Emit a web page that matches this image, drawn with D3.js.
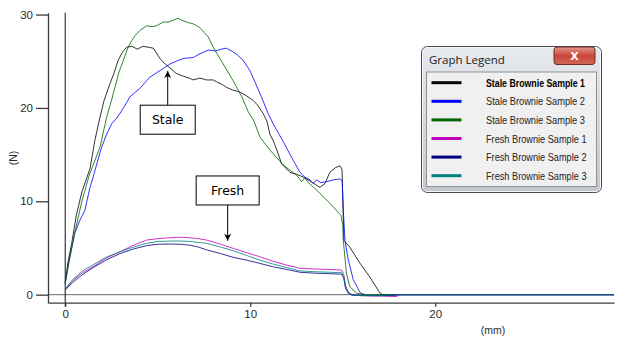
<!DOCTYPE html>
<html>
<head>
<meta charset="utf-8">
<script src="https://cdn.jsdelivr.net/npm/d3@7"></script>
<style>
  html, body { margin: 0; padding: 0; background: #fff; }
  svg { display: block; }
</style>
</head>
<body>
<svg id="chart" width="630" height="338"></svg>
<script>
// Texture analyser runs: force (N) versus distance (mm)
const seriesNames = [
  "Stale Brownie Sample 1", "Stale Brownie Sample 2", "Stale Brownie Sample 3",
  "Fresh Brownie Sample 1", "Fresh Brownie Sample 2", "Fresh Brownie Sample 3"
];
const seriesColors = ["#000000", "#0000ff", "#006400", "#c000c0", "#000080", "#008080"];

const stale1 = [[0,1.2],[0.15,3.5],[0.35,5.5],[0.6,8.5],[0.9,11],[1.34,13.5],[1.6,16.5],[1.88,19.0],[2.1,20.8],[2.42,22.6],[2.65,23.8],[2.86,25.1],[3.1,26.0],[3.32,26.5],[3.6,26.6],[3.9,26.3],[4.2,26.6],[4.5,26.5],[4.76,26.4],[5.12,25.3],[5.4,24.7],[5.66,24.3],[6.0,23.7],[6.38,23.4],[6.7,23.2],[6.92,23.0],[7.28,23.2],[7.64,23.0],[8.0,23.0],[8.18,22.8],[8.5,22.5],[8.72,22.2],[9.08,21.9],[9.44,21.7],[9.8,21.3],[10.16,20.8],[10.4,20.3],[10.7,19.4],[10.9,18.6],[11.06,17.2],[11.24,16.5],[11.42,15.6],[11.7,14.0],[12.15,13.1],[12.5,12.9],[12.86,12.6],[13.3,12.1],[13.6,11.7],[13.77,11.5],[14.04,11.9],[14.3,13.1],[14.6,13.6],[14.85,13.8],[14.96,13.4],[15.02,9.0],[15.06,5.8],[15.38,5.1],[15.92,3.4],[16.46,1.9],[17.0,0.2],[17.2,-0.05],[17.6,-0.1],[18.0,0],[29.66,0]];

const stale2 = [[0,1.3],[0.2,3.5],[0.52,6.6],[0.8,8.0],[1.06,9.0],[1.34,11.5],[1.51,12.6],[1.75,14.3],[1.97,15.8],[2.2,17.0],[2.51,18.3],[2.78,18.9],[3.05,19.7],[3.3,20.5],[3.5,21.2],[4.04,22.1],[4.58,23.3],[5.12,24.0],[5.66,24.7],[6.0,25.0],[6.38,25.3],[6.92,25.4],[7.28,25.8],[7.73,26.2],[8.1,26.1],[8.45,26.3],[8.7,26.4],[9.0,26.1],[9.3,25.7],[9.62,25.1],[9.98,24.0],[10.25,22.8],[10.6,21.2],[10.97,19.4],[11.24,18.3],[11.78,16.4],[12.32,14.4],[12.69,13.1],[12.95,12.6],[13.23,12.3],[13.4,11.9],[13.59,12.3],[13.8,12.0],[14.13,12.1],[14.5,12.3],[14.85,12.4],[14.97,12.2],[15.03,9.1],[15.12,5.8],[15.3,3.7],[15.57,1.6],[15.95,0.2],[16.3,-0.1],[17.5,-0.1],[18.0,0],[29.66,0]];

const stale3 = [[0,1.2],[0.2,3.5],[0.5,6.5],[0.9,10],[1.3,12.8],[1.88,15.8],[2.24,19.0],[2.5,20.8],[2.69,22.2],[2.9,23.8],[3.14,25.1],[3.4,26.5],[3.59,27.2],[3.8,27.8],[4.04,28.3],[4.4,28.8],[4.7,28.7],[4.94,28.8],[5.3,29.2],[5.6,29.2],[5.84,29.4],[6.1,29.6],[6.3,29.4],[6.56,29.2],[6.92,29.0],[7.28,28.6],[7.5,28.1],[7.73,27.6],[8.0,26.5],[8.54,24.7],[9.08,22.9],[9.54,21.2],[9.89,19.6],[10.2,18.6],[10.52,16.9],[11.06,15.5],[11.78,13.9],[12.5,12.8],[12.78,12.1],[12.95,12.5],[13.2,11.9],[13.59,11.2],[14.3,9.8],[14.9,8.5],[15.0,7.5],[15.03,5.8],[15.2,2.3],[15.38,0.85],[15.75,0.15],[16.2,0],[29.66,0]];

const fresh1 = [[0,0.6],[0.4,1.5],[0.9,2.3],[1.51,3.0],[2.2,3.9],[2.96,4.6],[3.7,5.3],[4.4,5.85],[5.0,6.0],[5.66,6.1],[6.2,6.15],[6.74,6.1],[7.2,6.0],[7.64,5.85],[8.4,5.4],[9.08,4.96],[9.8,4.5],[10.52,4.06],[11.2,3.6],[11.97,3.17],[12.69,2.82],[13.5,2.75],[14.3,2.7],[14.94,2.64],[15.05,2.2],[15.15,1.0],[15.3,0.3],[15.5,0.0],[16.0,-0.1],[17.0,-0.15],[17.9,-0.2],[18.1,0],[29.66,0]];

const fresh2 = [[0,0.5],[0.4,1.3],[0.9,2.1],[1.51,2.9],[2.2,3.7],[2.96,4.4],[3.7,4.9],[4.4,5.25],[5.0,5.4],[5.66,5.42],[6.2,5.4],[6.74,5.3],[7.2,5.1],[7.64,4.8],[8.4,4.4],[9.08,4.0],[9.8,3.7],[10.52,3.35],[11.2,3.0],[11.97,2.7],[12.69,2.4],[13.5,2.3],[14.3,2.25],[14.94,2.2],[15.05,1.8],[15.15,0.7],[15.3,0.15],[15.5,-0.05],[16.0,-0.1],[17.0,-0.1],[18.0,0],[29.66,0]];

const fresh3 = [[0,0.6],[0.4,1.6],[0.9,2.5],[1.51,3.2],[2.2,4.0],[2.96,4.6],[3.7,5.1],[4.4,5.5],[5.0,5.7],[5.66,5.74],[6.2,5.75],[6.74,5.7],[7.2,5.6],[7.64,5.5],[8.4,5.1],[9.08,4.7],[9.8,4.2],[10.52,3.7],[11.2,3.3],[11.97,2.9],[12.69,2.55],[13.5,2.45],[14.3,2.4],[14.94,2.35],[15.05,1.9],[15.15,0.8],[15.3,0.2],[15.5,-0.05],[16.0,-0.1],[17.0,-0.1],[18.0,0],[29.66,0]];

const seriesData = [stale1, stale2, stale3, fresh1, fresh2, fresh3];

const xTicks = [0, 10, 20];
const yTicks = [0, 10, 20, 30];

// Callout labels: text, box centre (data units), arrow tip y (data units)
const calloutText = ["Stale", "Fresh"];
const calloutAt = [[5.54, 18.74, 23.95], [8.78, 11.16, 5.78]];

const svg = d3.select("#chart");
const x = d3.scaleLinear().domain([-0.93, 29.66]).range([48, 614]);
const y = d3.scaleLinear().domain([-0.86, 30.2]).range([302.7, 12.7]);

const axisColor = "#3c3c3c";
const tickFont = "Liberation Sans, Arial, sans-serif";

// zero reference lines
svg.append("line")
  .attr("x1", x.range()[0]).attr("x2", x.range()[1])
  .attr("y1", y(0)).attr("y2", y(0))
  .attr("stroke", "#6a6a6a").attr("stroke-width", 1);
svg.append("line")
  .attr("x1", x(0)).attr("x2", x(0))
  .attr("y1", y.range()[1]).attr("y2", y.range()[0] + 4)
  .attr("stroke", "#111").attr("stroke-width", 1);

// axes
const gx = svg.append("g")
  .attr("transform", `translate(0,${y.range()[0]})`)
  .call(d3.axisBottom(x).tickValues(xTicks).tickSize(4).tickSizeOuter(0).tickPadding(3));
const gy = svg.append("g")
  .attr("transform", `translate(${x.range()[0]},0)`)
  .call(d3.axisLeft(y).tickValues(yTicks).tickSize(12).tickSizeOuter(0).tickPadding(3));
[gx, gy].forEach(g => {
  g.select(".domain").attr("stroke", axisColor).attr("stroke-width", 1.3);
  g.selectAll(".tick line").attr("stroke", axisColor).attr("stroke-width", 1.3);
  g.selectAll(".tick text").attr("fill", "#2a2a2a")
    .style("font-family", tickFont).style("font-size", "11.5px");
});

svg.append("text")
  .attr("x", 493).attr("y", 334)
  .attr("text-anchor", "middle")
  .style("font-family", tickFont).style("font-size", "10.5px").attr("fill", "#2a2a2a")
  .text("(mm)");
svg.append("text")
  .attr("transform", "translate(17,158) rotate(-90)")
  .attr("text-anchor", "middle")
  .style("font-family", tickFont).style("font-size", "10.5px").attr("fill", "#2a2a2a")
  .text("(N)");

// traces
const line = d3.line().x(d => x(d[0])).y(d => y(d[1]));
svg.append("g").selectAll("path")
  .data(seriesData)
  .join("path")
  .attr("d", line)
  .attr("fill", "none")
  .attr("stroke", (d, i) => seriesColors[i])
  .attr("stroke-width", 1)
  .attr("stroke-opacity", 0.8);

// callouts
const defs = svg.append("defs");
defs.append("marker")
  .attr("id", "arrowHead")
  .attr("viewBox", "0 0 10 10")
  .attr("refX", 10).attr("refY", 5)
  .attr("markerWidth", 10).attr("markerHeight", 7)
  .attr("markerUnits", "userSpaceOnUse")
  .attr("orient", "auto")
  .append("path").attr("d", "M0,0 L10,5 L0,10 L3,5 Z").attr("fill", "#000");

const boxW = [55, 63], boxH = 29;
calloutText.forEach((t, i) => {
  const [cx, cy, tipY] = calloutAt[i];
  const px = x(cx), py = y(cy), w = boxW[i];
  const g = svg.append("g");
  const edge = y(tipY) < py ? py - boxH / 2 : py + boxH / 2;
  g.append("line")
    .attr("x1", px).attr("x2", px)
    .attr("y1", edge).attr("y2", y(tipY))
    .attr("stroke", "#000").attr("stroke-width", 1)
    .attr("marker-end", "url(#arrowHead)");
  g.append("rect")
    .attr("x", px - w / 2).attr("y", py - boxH / 2)
    .attr("width", w).attr("height", boxH)
    .attr("fill", "#fff").attr("stroke", "#000").attr("stroke-width", 1);
  g.append("text")
    .attr("x", px).attr("y", py + 4.5)
    .attr("text-anchor", "middle")
    .style("font-family", "DejaVu Sans, Verdana, sans-serif").style("font-size", "12.5px")
    .attr("fill", "#000")
    .text(t);
});

// legend window
const win = svg.append("g").attr("transform", "translate(421.5,46.5)");
const grad = defs.append("linearGradient").attr("id", "glass").attr("x1", 0).attr("x2", 0).attr("y1", 0).attr("y2", 1);
grad.append("stop").attr("offset", "0%").attr("stop-color", "#e6e9ed");
grad.append("stop").attr("offset", "100%").attr("stop-color", "#c3c8ce");
const btn = defs.append("linearGradient").attr("id", "closeBtn").attr("x1", 0).attr("x2", 0).attr("y1", 0).attr("y2", 1);
btn.append("stop").attr("offset", "0%").attr("stop-color", "#e59a8a");
btn.append("stop").attr("offset", "50%").attr("stop-color", "#c9473a");
btn.append("stop").attr("offset", "100%").attr("stop-color", "#d06a55");

win.append("rect").attr("x", 0).attr("y", 0).attr("width", 180).attr("height", 146)
  .attr("rx", 6).attr("fill", "url(#glass)").attr("stroke", "#4a4e54").attr("stroke-width", 1);
win.append("rect").attr("x", 1).attr("y", 1).attr("width", 178).attr("height", 144)
  .attr("rx", 5).attr("fill", "none").attr("stroke", "#f4f6f8").attr("stroke-width", 1);
win.append("text").attr("x", 7.5).attr("y", 17.5)
  .style("font-family", "Open Sans, Liberation Sans, sans-serif").style("font-size", "11.5px")
  .attr("fill", "#1a1a1a").text("Graph Legend");
win.append("rect").attr("x", 132.5).attr("y", 0.5).attr("width", 41).attr("height", 17.5)
  .attr("rx", 3).attr("fill", "url(#closeBtn)").attr("stroke", "#6b2a22").attr("stroke-width", 1);
win.append("text").attr("x", 153).attr("y", 13.5).attr("text-anchor", "middle")
  .style("font-family", "DejaVu Sans, sans-serif").style("font-size", "11px").style("font-weight", "bold")
  .attr("fill", "#fff").text("X");
win.append("rect").attr("x", 5).attr("y", 25.5).attr("width", 170).attr("height", 114.5)
  .attr("fill", "#f0f0f0").attr("stroke", "#8e9296").attr("stroke-width", 1);

const rows = win.append("g").selectAll("g")
  .data(seriesNames)
  .join("g")
  .attr("transform", (d, i) => `translate(0,${36.2 + i * 18.6})`);
rows.append("line")
  .attr("x1", 10).attr("x2", 40)
  .attr("y1", 0).attr("y2", 0)
  .attr("stroke", (d, i) => seriesColors[i]).attr("stroke-width", 3);
rows.append("text")
  .attr("x", 64.5).attr("y", 4)
  .attr("textLength", (d, i) => i < 3 ? 99 : 100.5)
  .attr("lengthAdjust", "spacingAndGlyphs")
  .style("font-family", "Liberation Sans, Arial, sans-serif").style("font-size", "11px")
  .style("font-weight", (d, i) => i === 0 ? "bold" : "normal")
  .attr("fill", (d, i) => i === 0 ? "#000" : "#222")
  .text(d => d);
</script>
</body>
</html>
